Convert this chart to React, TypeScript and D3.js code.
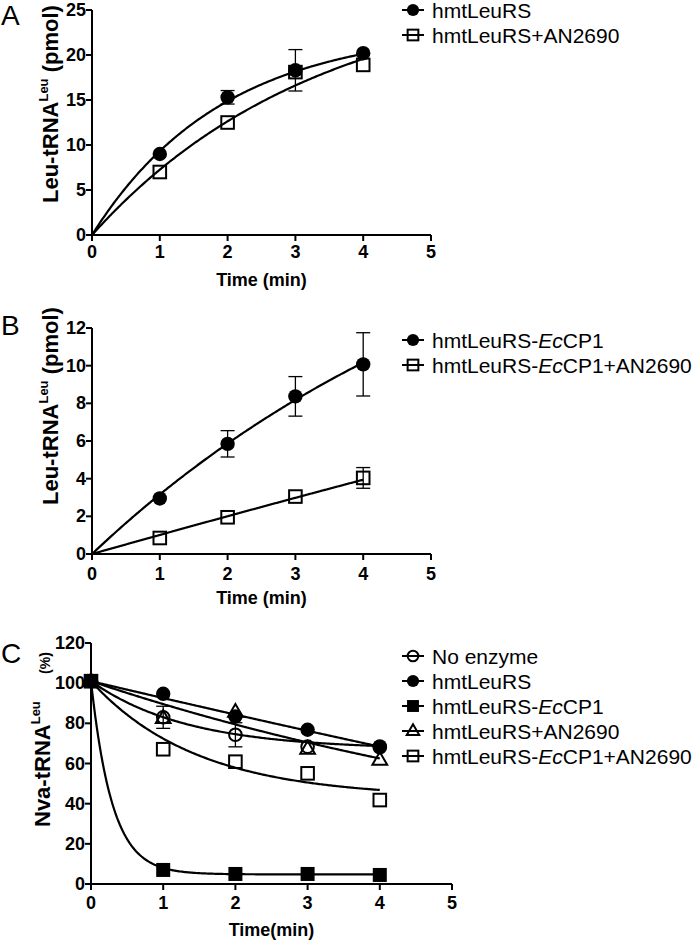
import React from 'react';
import * as d3 from 'd3';

// ---------- Data ----------
// Panel A
const aTimes = [1, 2, 3, 4];
const aLeuRS = [9.0, 15.3, 18.3, 20.2];
const aLeuRSErr = [0, 0.75, 2.3, 0];
const aLeuRSAN = [7.0, 12.5, 18.1, 18.9];
const aLeuRSANErr = [0, 0, 0, 0];
// fit: y = Ymax * (1 - exp(-k t))
const aFitYmax = [23, 28];
const aFitK = [0.52, 0.3];
const aXTicks = [0, 1, 2, 3, 4, 5];
const aYTicks = [0, 5, 10, 15, 20, 25];

// Panel B
const bTimes = [1, 2, 3, 4];
const bCP1 = [2.95, 5.85, 8.37, 10.07];
const bCP1Err = [0, 0.7, 1.05, 1.68];
const bCP1AN = [0.85, 1.95, 3.05, 4.04];
const bCP1ANErr = [0, 0, 0, 0.55];
const bFitYmax = [22, 60];
const bFitK = [0.155, 0.017];
const bXTicks = [0, 1, 2, 3, 4, 5];
const bYTicks = [0, 2, 4, 6, 8, 10, 12];

// Panel C
const cTimes = [0, 1, 2, 3, 4];
const cNoEnzyme = [101, 83, 74.3, 68.4, 68];
const cNoEnzymeErr = [0, 5.5, 6, 0, 0];
const cLeuRS = [101, 94.7, 83.4, 76.8, 68.5];
const cCP1 = [101, 7, 5, 5, 4.5];
const cLeuRSAN = [101, 82.5, 85.7, 67.2, 61.8];
const cCP1AN = [101, 67.1, 60.9, 55.1, 41.8];
// fit: y = P + (Y0 - P) * exp(-k t)
const cFitY0 = [101, 101, 101, 101, 101];
const cFitPlateau = [67, -300, 4.8, 0, 43];
const cFitK = [0.75, 0.0212, 3.4, 0.12, 0.68];
const cXTicks = [0, 1, 2, 3, 4, 5];
const cYTicks = [0, 20, 40, 60, 80, 100, 120];

const FONT = '"Liberation Sans", Arial, Helvetica, sans-serif';

type Shape = 'circleFilled' | 'circleOpen' | 'squareFilled' | 'squareOpen' | 'triangleOpen';

function Marker({ shape, x, y, s = 1 }: { shape: Shape; x: number; y: number; s?: number }) {
  const sw = 2;
  if (shape === 'circleFilled') return <circle cx={x} cy={y} r={7.2 * s} fill="#000" />;
  if (shape === 'circleOpen')
    return <circle cx={x} cy={y} r={6.3 * s} fill="none" stroke="#000" strokeWidth={sw} />;
  if (shape === 'squareFilled') {
    const h = 7 * s;
    return <rect x={x - h} y={y - h} width={2 * h} height={2 * h} fill="#000" />;
  }
  if (shape === 'squareOpen') {
    const h = 6.3 * s;
    return <rect x={x - h} y={y - h} width={2 * h} height={2 * h} fill="none" stroke="#000" strokeWidth={sw} />;
  }
  const r = 8 * s;
  const pts = [
    [x, y - r],
    [x + r * 0.92, y + r * 0.6],
    [x - r * 0.92, y + r * 0.6],
  ];
  return <polygon points={pts.map((p) => p.join(',')).join(' ')} fill="none" stroke="#000" strokeWidth={sw} />;
}

interface Series {
  times: number[];
  values: number[];
  errs?: number[];
  shape: Shape;
  fit: (t: number) => number;
}

interface PanelProps {
  letter: string;
  letterY: number;
  xRange: [number, number];
  yRange: [number, number];
  yMax: number;
  xTicks: number[];
  yTicks: number[];
  xTickBaseline: number;
  xTitle: string;
  xTitleBaseline: number;
  yTitle: React.ReactNode;
  series: Series[];
  legend: { shape: Shape; label: React.ReactNode }[];
  legendY: number;
}

function PanelView(p: PanelProps) {
  const x = d3.scaleLinear().domain([0, 5]).range(p.xRange);
  const y = d3.scaleLinear().domain([0, p.yMax]).range(p.yRange);
  const samples = d3.range(0, 4.0001, 0.02);
  const x0 = p.xRange[0];
  const y0 = p.yRange[0];
  return (
    <g fontFamily={FONT}>
      <text x={1} y={p.letterY} fontSize={28} fill="#000">
        {p.letter}
      </text>
      {/* fit curves */}
      {p.series.map((s, i) => {
        const gen = d3
          .line<number>()
          .x((t) => x(t))
          .y((t) => y(s.fit(t)))
          .curve(d3.curveLinear);
        return <path key={'c' + i} d={gen(samples) || ''} fill="none" stroke="#000" strokeWidth={2.2} />;
      })}
      {/* error bars */}
      {p.series.map((s, i) =>
        s.times.map((t, j) => {
          const e = s.errs ? s.errs[j] : 0;
          if (!e) return null;
          const cx = x(t);
          return (
            <g key={'e' + i + '-' + j} stroke="#000" strokeWidth={1.3}>
              <line x1={cx} x2={cx} y1={y(s.values[j] + e)} y2={y(s.values[j] - e)} />
              <line x1={cx - 7} x2={cx + 7} y1={y(s.values[j] + e)} y2={y(s.values[j] + e)} />
              <line x1={cx - 7} x2={cx + 7} y1={y(s.values[j] - e)} y2={y(s.values[j] - e)} />
            </g>
          );
        })
      )}
      {/* markers */}
      {p.series.map((s, i) =>
        s.times.map((t, j) => <Marker key={'m' + i + '-' + j} shape={s.shape} x={x(t)} y={y(s.values[j])} />)
      )}
      {/* axes */}
      <g stroke="#000" strokeWidth={2} fill="none">
        <line x1={x0} x2={p.xRange[1]} y1={y0} y2={y0} />
        <line x1={x0} x2={x0} y1={y0} y2={p.yRange[1]} />
        {p.xTicks.map((t) => (
          <line key={'xt' + t} x1={x(t)} x2={x(t)} y1={y0} y2={y0 + 6} />
        ))}
        {p.yTicks.map((t) => (
          <line key={'yt' + t} x1={x0 - 6} x2={x0} y1={y(t)} y2={y(t)} />
        ))}
      </g>
      <g fontSize={18} fontWeight="bold" fill="#000">
        {p.xTicks.map((t) => (
          <text key={'xl' + t} x={x(t)} y={p.xTickBaseline} textAnchor="middle">
            {t}
          </text>
        ))}
        {p.yTicks.map((t) => (
          <text key={'yl' + t} x={x0 - 6} y={y(t) + 6} textAnchor="end">
            {t}
          </text>
        ))}
      </g>
      <text
        x={(p.xRange[0] + p.xRange[1]) / 2}
        y={p.xTitleBaseline}
        textAnchor="middle"
        fontSize={18}
        fontWeight="bold"
      >
        {p.xTitle}
      </text>
      {p.yTitle}
      {/* legend */}
      {p.legend.map((l, i) => {
        const ly = p.legendY + i * 25;
        return (
          <g key={'lg' + i}>
            <line x1={402} x2={424} y1={ly} y2={ly} stroke="#000" strokeWidth={2} />
            <Marker shape={l.shape} x={413} y={ly} s={0.85} />
            <text x={432} y={ly + 7.5} fontSize={21} fill="#000">
              {l.label}
            </text>
          </g>
        );
      })}
    </g>
  );
}

function yTitleLeu(xBase: number, yStart: number, main: string, tail: string, tailSize: number) {
  return (
    <text
      transform={`translate(${xBase},${yStart}) rotate(-90)`}
      fontFamily={FONT}
      fontWeight="bold"
      fontSize={22}
      fill="#000"
    >
      {main}
      <tspan fontSize={13} dy={-10}>
        Leu
      </tspan>
      <tspan fontSize={tailSize} dy={10}>
        {tail}
      </tspan>
    </text>
  );
}

export default function App() {
  const satur = (ymax: number, k: number) => (t: number) => ymax * (1 - Math.exp(-k * t));
  const decay = (y0: number, pl: number, k: number) => (t: number) => pl + (y0 - pl) * Math.exp(-k * t);

  const Ec = (
    <tspan>
      hmtLeuRS-<tspan fontStyle="italic">Ec</tspan>CP1
    </tspan>
  );

  return (
    <svg width={693} height={942} style={{ display: 'block', position: 'absolute', left: 0, top: 0 }}>
      <rect width={693} height={942} fill="#fff" />
      <PanelView
        letter="A"
        letterY={25}
        xRange={[92, 431]}
        yRange={[235, 10]}
        yMax={25}
        xTicks={aXTicks}
        yTicks={aYTicks}
        xTickBaseline={258}
        xTitle="Time (min)"
        xTitleBaseline={286}
        yTitle={yTitleLeu(58, 203, 'Leu-tRNA', ' (pmol)', 22)}
        series={[
          { times: aTimes, values: aLeuRSAN, errs: aLeuRSANErr, shape: 'squareOpen', fit: satur(aFitYmax[1], aFitK[1]) },
          { times: aTimes, values: aLeuRS, errs: aLeuRSErr, shape: 'circleFilled', fit: satur(aFitYmax[0], aFitK[0]) },
        ]}
        legend={[
          { shape: 'circleFilled', label: 'hmtLeuRS' },
          { shape: 'squareOpen', label: 'hmtLeuRS+AN2690' },
        ]}
        legendY={10}
      />
      <PanelView
        letter="B"
        letterY={335}
        xRange={[92, 431]}
        yRange={[554, 328]}
        yMax={12}
        xTicks={bXTicks}
        yTicks={bYTicks}
        xTickBaseline={580}
        xTitle="Time (min)"
        xTitleBaseline={604}
        yTitle={yTitleLeu(58, 505, 'Leu-tRNA', ' (pmol)', 22)}
        series={[
          { times: bTimes, values: bCP1AN, errs: bCP1ANErr, shape: 'squareOpen', fit: satur(bFitYmax[1], bFitK[1]) },
          { times: bTimes, values: bCP1, errs: bCP1Err, shape: 'circleFilled', fit: satur(bFitYmax[0], bFitK[0]) },
        ]}
        legend={[
          { shape: 'circleFilled', label: Ec },
          { shape: 'squareOpen', label: <tspan>{Ec}+AN2690</tspan> },
        ]}
        legendY={340}
      />
      <PanelView
        letter="C"
        letterY={663}
        xRange={[91, 452]}
        yRange={[884, 643]}
        yMax={120}
        xTicks={cXTicks}
        yTicks={cYTicks}
        xTickBaseline={909}
        xTitle="Time(min)"
        xTitleBaseline={936}
        yTitle={yTitleLeu(50, 827, 'Nva-tRNA', '\u00a0\u00a0\u00a0\u00a0\u00a0\u00a0\u00a0(%)', 14)}
        series={[
          { times: cTimes, values: cCP1AN, shape: 'squareOpen', fit: decay(cFitY0[4], cFitPlateau[4], cFitK[4]) },
          { times: cTimes, values: cLeuRS, shape: 'circleFilled', fit: decay(cFitY0[1], cFitPlateau[1], cFitK[1]) },
          { times: cTimes, values: cNoEnzyme, errs: cNoEnzymeErr, shape: 'circleOpen', fit: decay(cFitY0[0], cFitPlateau[0], cFitK[0]) },
          { times: cTimes, values: cLeuRSAN, shape: 'triangleOpen', fit: decay(cFitY0[3], cFitPlateau[3], cFitK[3]) },
          { times: cTimes, values: cCP1, shape: 'squareFilled', fit: decay(cFitY0[2], cFitPlateau[2], cFitK[2]) },
        ]}
        legend={[
          { shape: 'circleOpen', label: 'No enzyme' },
          { shape: 'circleFilled', label: 'hmtLeuRS' },
          { shape: 'squareFilled', label: Ec },
          { shape: 'triangleOpen', label: 'hmtLeuRS+AN2690' },
          { shape: 'squareOpen', label: <tspan>{Ec}+AN2690</tspan> },
        ]}
        legendY={656}
      />
    </svg>
  );
}
